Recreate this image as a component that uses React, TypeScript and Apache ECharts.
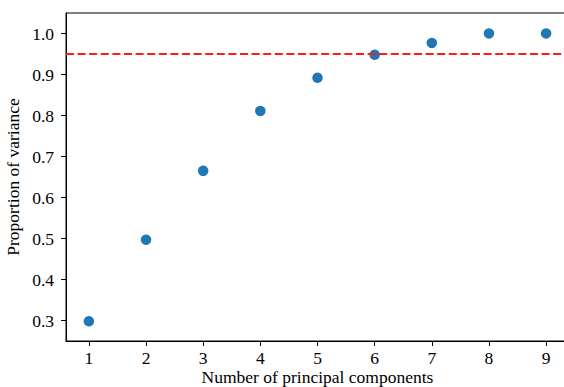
import React, { useEffect, useRef } from "react";
import * as echarts from "echarts";

// Number of principal components kept
const components = [1, 2, 3, 4, 5, 6, 7, 8, 9];
// Cumulative proportion of explained variance
const proportion = [0.298, 0.497, 0.665, 0.811, 0.892, 0.948, 0.977, 1.0, 1.0];
// Threshold drawn as a dashed reference line
const threshold = 0.95;

const xTicks = [1, 2, 3, 4, 5, 6, 7, 8, 9];
const yTicks = [0.3, 0.4, 0.5, 0.6, 0.7, 0.8, 0.9, 1.0];

const FONT = "'Liberation Serif', 'Times New Roman', serif";
const FONT_SIZE = 17.5;

export default function App() {
  const ref = useRef<HTMLDivElement>(null);

  useEffect(() => {
    if (!ref.current) return;
    const chart = echarts.init(ref.current, undefined, { renderer: "svg" });
    const axisCommon = {
      type: "value" as const,
      splitLine: { show: false },
      axisLine: { show: true, lineStyle: { color: "#000", width: 1 } },
      axisTick: { show: true, inside: false, length: 5, lineStyle: { color: "#000", width: 1 } },
      nameLocation: "middle" as const,
      nameMoveOverlap: false,
      nameTextStyle: { fontFamily: FONT, fontSize: FONT_SIZE, color: "#000" },
    };
    chart.setOption({
      animation: false,
      backgroundColor: "#fff",
      grid: {
        left: 66,
        top: 13,
        right: -5,
        bottom: 46,
        outerBoundsMode: "none",
        containLabel: false,
        show: true,
        borderColor: "#000",
        borderWidth: 1,
        backgroundColor: "transparent",
      },
      xAxis: {
        ...axisCommon,
        min: 0.6,
        max: 9.4,
        name: "Number of principal components",
        nameGap: 27,
        axisTick: { ...axisCommon.axisTick, customValues: xTicks },
        axisLabel: {
          customValues: xTicks,
          margin: 8,
          fontFamily: FONT,
          fontSize: FONT_SIZE,
          color: "#000",
        },
      },
      yAxis: {
        ...axisCommon,
        min: 0.25,
        max: 1.05,
        name: "Proportion of variance",
        nameGap: 44,
        axisTick: { ...axisCommon.axisTick, customValues: yTicks },
        axisLabel: {
          customValues: yTicks,
          margin: 12,
          fontFamily: FONT,
          fontSize: FONT_SIZE,
          color: "#000",
          formatter: (v: number) => v.toFixed(1),
        },
      },
      series: [
        {
          type: "scatter",
          data: components.map((c, i) => [c, proportion[i]]),
          symbol: "circle",
          symbolSize: 10.5,
          itemStyle: { color: "#1f77b4", opacity: 1 },
          markLine: {
            silent: true,
            symbol: "none",
            label: { show: false },
            lineStyle: { color: "#ff1a1a", width: 1.8, type: [8, 3.6] },
            data: [{ yAxis: threshold }],
          },
          z: 3,
        },
      ],
    });
    return () => chart.dispose();
  }, []);

  return (
    <div
      ref={ref}
      style={{ position: "absolute", left: 0, top: 0, width: 564, height: 387 }}
    />
  );
}
